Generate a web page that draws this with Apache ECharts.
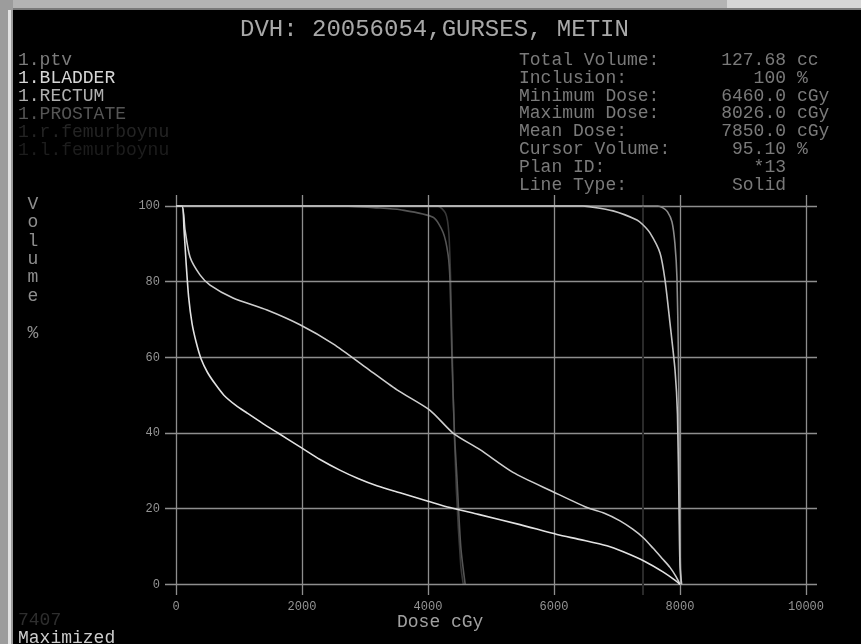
<!DOCTYPE html>
<html>
<head>
<meta charset="utf-8">
<script src="https://cdn.jsdelivr.net/npm/echarts@6.0.0/dist/echarts.min.js"></script>
<style>
html,body{margin:0;padding:0;background:#000;}
#chart{width:861px;height:644px;}
</style>
</head>
<body>
<div id="chart"></div>
<script>
// ---------- DATA ----------
const titleText = "DVH: 20056054,GURSES, METIN";
const structureNames = ["1.ptv", "1.BLADDER", "1.RECTUM", "1.PROSTATE", "1.r.femurboynu", "1.l.femurboynu"];

const ptvDose = [0, 6460, 6524, 6937, 7317, 7407, 7524, 7683, 7762, 7841, 7921, 7960, 7985, 8000, 8026];
const ptvVol  = [100, 100, 99.9, 98.7, 96.3, 95.1, 92.9, 87.6, 80.5, 69.1, 56.7, 45, 20, 5, 0];

const bladderDose = [0, 95, 127, 160, 200, 254, 320, 400, 500, 620, 760, 950, 1127, 1380, 1619, 2000, 2286, 2600, 2889, 3200, 3556, 4000, 4349, 4800, 5460, 6048, 6400, 6840, 7100, 7450, 7730, 7930, 8000];
const bladderVol  = [100, 100, 93.7, 85, 76, 69, 64, 59.5, 56, 53, 50, 47.3, 45.3, 42.5, 40, 36, 33, 30.2, 28, 26, 24.2, 22, 20.3, 18.5, 15.8, 13.2, 11.9, 10.2, 8.6, 6, 3.3, 1, 0];

const rectumDose = [0, 95, 143, 222, 380, 540, 905, 1444, 1968, 2500, 3000, 3508, 4032, 4397, 4825, 5349, 5984, 6524, 6800, 7048, 7250, 7413, 7571, 7720, 7841, 7940, 8000];
const rectumVol  = [100, 100, 93.7, 86.5, 81.8, 79.1, 75.7, 72.5, 68.6, 63.5, 57.5, 51.4, 46, 40, 35.6, 29.6, 24.5, 20.3, 18.8, 16.8, 14.6, 12.4, 9.6, 6.8, 4.5, 2, 0];

const prostateDose = [0, 7650, 7730, 7800, 7873, 7920, 7952, 7975, 7990, 8000, 8015];
const prostateVol  = [100, 100, 99.5, 98.5, 95.8, 90, 81, 60, 30, 10, 0];

const femurRDose = [0, 2600, 3200, 3560, 4080, 4240, 4320, 4350, 4380, 4420, 4460, 4520, 4590];
const femurRVol  = [100, 100, 99.5, 99, 97, 93, 87, 80, 60, 40, 28, 10, 0];

const femurLDose = [0, 4150, 4280, 4330, 4360, 4400, 4450, 4520, 4560];
const femurLVol  = [100, 100, 98, 93, 80, 50, 25, 5, 0];

const cursorDose = 7407;

const xTicks = [0, 2000, 4000, 6000, 8000, 10000];
const yTicks = [0, 20, 40, 60, 80, 100];

const infoLabels = ["Total Volume:", "Inclusion:", "Minimum Dose:", "Maximum Dose:", "Mean Dose:", "Cursor Volume:", "Plan ID:", "Line Type:"];
const infoValues = ["127.68", "100", "6460.0", "8026.0", "7850.0", "95.10", "*13", "Solid"];
const infoUnits  = ["cc", "%", "cGy", "cGy", "cGy", "%", "", ""];

const yAxisTitle = ["V", "o", "l", "u", "m", "e", "", "%"];
const xAxisTitle = "Dose cGy";
const cursorLabel = "7407";
const statusLabel = "Maximized";

// ---------- STYLE ----------
const MONO = '"Liberation Mono", "DejaVu Sans Mono", monospace';
const legendColors = ["#7c7c7c", "#d6d6d6", "#b0b0b0", "#555555", "#242424", "#1d1d1d"];
const curveColors  = ["#c4c4c4", "#e2e2e2", "#cecece", "#8a8a8a", "#555555", "#383838"];

function pairs(xs, ys) { return xs.map((x, i) => [x, ys[i]]); }

const curves = [
  pairs(ptvDose, ptvVol),
  pairs(bladderDose, bladderVol),
  pairs(rectumDose, rectumVol),
  pairs(prostateDose, prostateVol),
  pairs(femurRDose, femurRVol),
  pairs(femurLDose, femurLVol)
];

const graphics = [];
// window frame
graphics.push({type:'rect', shape:{x:0,y:0,width:861,height:10}, style:{fill:'#b4b4b4'}, silent:true});
graphics.push({type:'rect', shape:{x:727,y:0,width:134,height:10}, style:{fill:'#d6d6d6'}, silent:true});
graphics.push({type:'rect', shape:{x:0,y:8,width:861,height:2}, style:{fill:'#7a7a7a'}, silent:true});
graphics.push({type:'rect', shape:{x:0,y:0,width:13,height:644}, style:{fill:'#9c9c9c'}, silent:true});
graphics.push({type:'rect', shape:{x:8,y:10,width:3,height:634}, style:{fill:'#e2e2e2'}, silent:true});

function txt(text, x, y, size, color, align) {
  return {type:'text', silent:true, style:{text:text, x:x, y:y, fill:color, font: size + 'px ' + MONO, align: align || 'left', verticalAlign:'middle'}};
}
graphics.push(txt(titleText, 240, 30, 24, '#a8a8a8'));
structureNames.forEach((n, i) => graphics.push(txt(n, 18, 60 + i * 18, 18, legendColors[i])));
infoLabels.forEach((l, i) => {
  const y = 60 + i * 17.9;
  graphics.push(txt(l, 519, y, 18, '#7a7a7a'));
  graphics.push(txt(infoValues[i], 786, y, 18, '#7a7a7a', 'right'));
  if (infoUnits[i]) graphics.push(txt(infoUnits[i], 797, y, 18, '#7a7a7a'));
});
yAxisTitle.forEach((c, i) => { if (c) graphics.push(txt(c, 33, 204 + i * 18.4, 18, '#8e8e8e', 'center')); });
graphics.push(txt(xAxisTitle, 397, 622, 18, '#a0a0a0'));
graphics.push(txt(cursorLabel, 18, 620, 18, '#2e2e2e'));
graphics.push(txt(statusLabel, 18, 638, 18, '#cccccc'));

const gridLineData = xTicks.map(v => ({xAxis: v})).concat(yTicks.map(v => ({yAxis: v})));
gridLineData.push({xAxis: cursorDose, lineStyle:{color:'#2a2a2a', width:2}});

const series = [{
  type:'line', name:'grid', data:[], z:1, silent:true,
  markLine:{
    silent:true, symbol:['none','none'], animation:false,
    label:{show:false},
    lineStyle:{color:'#8e8e8e', width:1.3, type:'solid'},
    emphasis:{disabled:true},
    data: gridLineData
  }
}];
curves.forEach((d, i) => {
  series.push({
    type:'line', name: structureNames[i], data: d, showSymbol:false,
    smooth:0.25,
    z: 3 + (5 - i), silent:true,
    lineStyle:{color: curveColors[i], width:1.6}
  });
});

const plain = v => String(v);
const chart = echarts.init(document.getElementById('chart'), null, {renderer:'canvas'});
chart.setOption({
  backgroundColor:'#000',
  animation:false,
  grid:{left:165, top:195, width:652, height:400, containLabel:false},
  xAxis:{
    type:'value', min:-175, max:10175,
    axisLine:{show:false}, axisTick:{show:false}, splitLine:{show:false},
    axisLabel:{customValues: xTicks, formatter: plain, color:'#949494', fontFamily: MONO, fontSize:12, margin:6, showMinLabel:true, showMaxLabel:true}
  },
  yAxis:{
    type:'value', min:-2.8, max:102.9,
    axisLine:{show:false}, axisTick:{show:false}, splitLine:{show:false},
    axisLabel:{customValues: yTicks, formatter: plain, color:'#949494', fontFamily: MONO, fontSize:12, margin:5, showMinLabel:true, showMaxLabel:true}
  },
  series: series,
  graphic: graphics
});
</script>
</body>
</html>
